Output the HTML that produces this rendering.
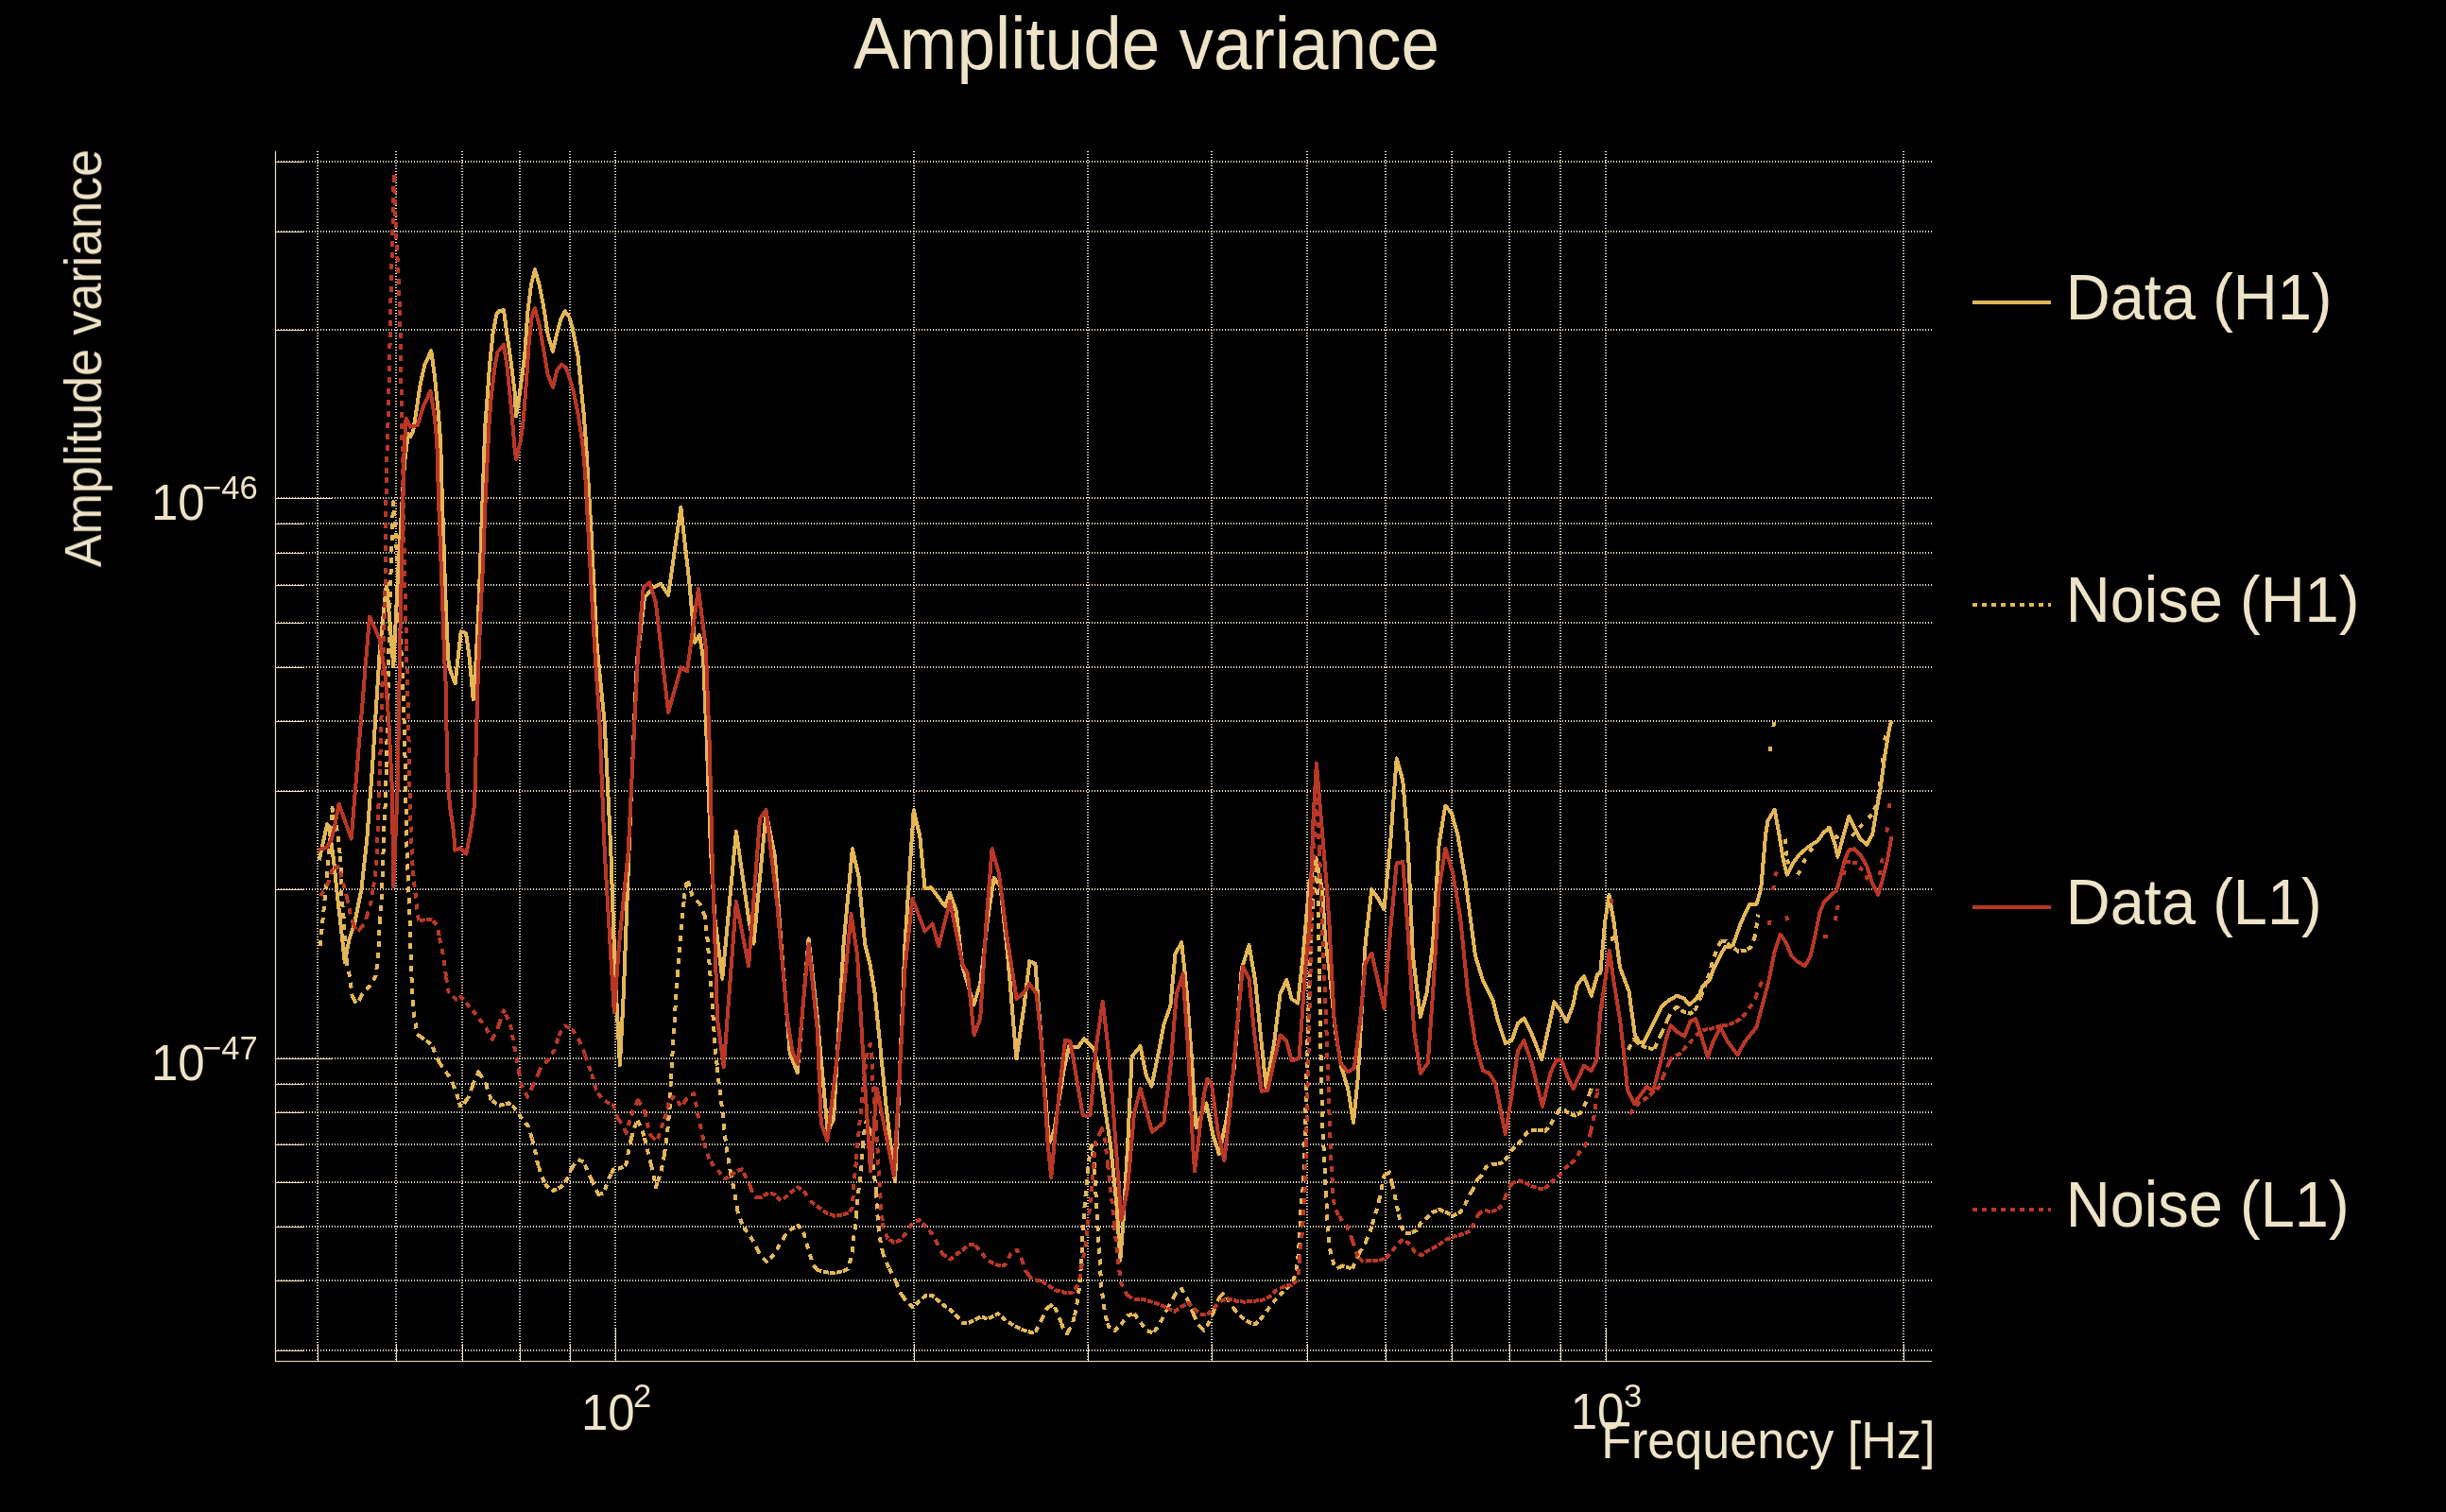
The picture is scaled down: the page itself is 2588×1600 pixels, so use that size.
<!DOCTYPE html>
<html><head><meta charset="utf-8"><title>Amplitude variance</title><style>
html,body{margin:0;padding:0;background:#000;width:2588px;height:1600px;overflow:hidden}
svg{display:block}
</style></head><body>
<svg width="2588" height="1600" viewBox="0 0 2588 1600" xmlns="http://www.w3.org/2000/svg" font-family="'Liberation Sans', sans-serif">
<rect width="2588" height="1600" fill="#000"/>
<path d="M291 171H2044M291 245H2044M291 349H2044M291 527H2044M291 554H2044M291 585H2044M291 619H2044M291 659H2044M291 706H2044M291 763H2044M291 837H2044M291 941H2044M291 1120H2044M291 1147H2044M291 1177H2044M291 1211H2044M291 1251H2044M291 1298H2044M291 1355H2044M291 1429H2044M336 160V1440M419 160V1440M489 160V1440M550 160V1440M603 160V1440M651 160V1440M967 160V1440M1151 160V1440M1282 160V1440M1383 160V1440M1466 160V1440M1536 160V1440M1597 160V1440M1651 160V1440M1699 160V1440M2014 160V1440" stroke="#EFE4C8" stroke-width="2" stroke-dasharray="1 2" fill="none"/>
<path d="M291 171.5h31M291 245.5h31M291 349.5h31M291 527.5h61M291 554.5h31M291 585.5h31M291 619.5h31M291 659.5h31M291 706.5h31M291 763.5h31M291 837.5h31M291 941.5h31M291 1120.5h61M291 1147.5h31M291 1177.5h31M291 1211.5h31M291 1251.5h31M291 1298.5h31M291 1355.5h31M291 1429.5h31M336.5 1440v-18M419.5 1440v-18M489.5 1440v-18M550.5 1440v-18M603.5 1440v-18M651.5 1440v-35M967.5 1440v-18M1151.5 1440v-18M1282.5 1440v-18M1383.5 1440v-18M1466.5 1440v-18M1536.5 1440v-18M1597.5 1440v-18M1651.5 1440v-18M1699.5 1440v-35M2014.5 1440v-18" stroke="#EFE4C8" stroke-width="1" fill="none"/>
<path d="M291.5 160V1440.5H2044" stroke="#EFE4C8" stroke-width="1.2" fill="none"/>
<g fill="none" stroke-width="4" stroke-linejoin="round" shape-rendering="crispEdges">
<polyline points="337.7,910.2 346.1,872.1 348.0,874.0 353.2,911.4 356.8,947.0 361.0,982.9 364.8,1018.4 369.3,994.8 375.2,976.9 382.4,941.2 388.3,887.6 394.0,812.0 401.7,690.0 409.0,617.0 416.3,705.5 421.0,610.0 425.0,540.0 428.0,490.0 431.8,459.3 434.5,462.0 437.2,456.3 440.2,436.5 444.8,406.1 449.3,386.3 456.2,371.1 460.0,398.5 463.8,436.5 466.1,466.9 467.9,530.0 469.5,575.7 471.0,621.3 472.5,659.4 474.8,705.0 481.6,723.3 487.7,668.5 493.0,670.0 496.9,697.4 500.7,740.0 503.7,697.4 506.7,636.5 508.3,590.9 510.5,530.0 513.2,452.3 515.7,419.2 518.1,386.1 521.5,353.0 525.6,331.6 528.5,329.0 533.0,328.3 536.3,353.0 540.3,380.0 544.6,415.0 546.1,440.4 549.1,422.1 555.2,376.5 558.3,330.8 562.1,300.4 565.9,285.2 570.4,300.4 575.0,323.2 579.6,353.7 584.9,371.9 588.7,355.2 593.2,338.5 597.8,329.3 602.4,335.4 605.4,346.1 608.5,361.3 611.5,376.5 614.5,406.9 617.6,437.3 620.0,467.7 625.4,560.0 631.7,685.0 639.7,764.6 646.3,900.0 650.6,1025.0 655.9,1127.0 659.8,1051.6 667.8,840.0 674.0,698.4 682.0,632.3 691.3,621.7 699.2,617.7 707.1,629.6 720.4,537.0 729.6,619.0 735.0,680.0 740.2,672.0 744.2,698.4 748.0,791.0 752.0,900.0 756.4,972.0 764.3,1035.8 778.9,879.7 792.1,972.3 797.4,998.7 810.6,859.8 819.9,906.0 826.5,998.7 835.8,1115.0 843.7,1135.0 855.6,993.4 864.9,1078.0 875.8,1198.0 882.0,1184.0 892.6,998.7 901.9,898.2 908.5,927.3 915.1,998.7 920.4,1020.0 925.7,1051.6 933.7,1131.0 937.6,1170.7 947.0,1250.6 952.2,1131.0 957.5,998.7 966.7,857.2 973.3,885.0 978.6,940.5 985.2,939.2 999.8,959.0 1005.0,944.5 1011.7,964.3 1018.3,1022.5 1030.4,1063.0 1037.2,1041.0 1045.1,972.3 1051.7,928.6 1058.4,938.0 1066.3,1012.0 1075.4,1120.3 1083.5,1064.9 1089.3,1017.2 1095.4,1020.0 1102.0,1104.5 1110.0,1210.2 1115.2,1197.0 1125.8,1131.0 1131.1,1107.2 1140.4,1108.5 1147.0,1099.3 1157.6,1109.8 1164.2,1139.0 1170.8,1184.0 1175.1,1212.4 1181.9,1279.9 1185.3,1333.8 1188.6,1291.1 1193.1,1212.4 1197.6,1118.0 1206.5,1107.2 1213.0,1139.0 1218.4,1149.5 1225.0,1117.8 1231.6,1083.4 1238.3,1064.9 1243.5,1009.3 1250.2,997.4 1255.4,1046.3 1260.7,1117.8 1265.6,1193.0 1276.3,1167.5 1283.2,1199.8 1289.8,1221.2 1297.8,1184.0 1303.3,1145.0 1305.7,1131.0 1313.7,1025.2 1321.6,1000.0 1328.2,1038.4 1334.8,1104.5 1339.6,1150.5 1348.0,1104.5 1354.6,1051.6 1361.3,1037.0 1366.6,1057.0 1373.2,1061.6 1378.8,1010.0 1385.4,934.0 1392.5,908.0 1399.2,943.0 1402.1,994.0 1406.3,1024.6 1412.9,1090.7 1419.5,1130.4 1426.1,1151.5 1432.0,1187.7 1436.7,1141.0 1444.7,998.0 1451.3,941.2 1457.9,950.5 1464.5,962.4 1471.1,892.3 1477.7,802.3 1484.3,826.1 1489.6,892.3 1494.9,1011.3 1502.9,1076.1 1509.5,1051.0 1516.1,998.0 1522.7,892.3 1529.3,852.6 1535.9,860.5 1542.5,884.3 1550.5,932.0 1561.0,1011.3 1569.0,1037.8 1579.6,1059.0 1584.9,1080.0 1592.8,1103.9 1599.4,1101.3 1606.0,1082.8 1612.6,1077.5 1619.3,1090.7 1624.6,1103.9 1631.2,1121.1 1637.8,1090.7 1644.4,1060.3 1651.0,1069.5 1657.6,1081.4 1664.2,1064.2 1668.7,1042.5 1675.9,1033.0 1683.8,1053.7 1690.2,1031.4 1693.3,1029.8 1698.1,975.9 1702.6,947.1 1707.6,975.9 1714.0,1023.5 1723.5,1048.9 1729.8,1094.9 1734.6,1102.9 1739.4,1102.9 1748.9,1083.8 1758.4,1064.8 1764.8,1059.2 1774.3,1053.7 1782.2,1056.8 1787.0,1063.2 1793.3,1058.4 1798.1,1052.1 1801.3,1044.1 1809.2,1036.2 1812.4,1026.7 1818.7,1014.0 1825.1,1002.1 1830.6,1002.1 1833.8,999.7 1841.0,979.0 1847.3,964.8 1851.4,956.7 1858.6,956.7 1863.3,940.0 1868.1,882.9 1870.5,868.6 1877.6,856.7 1882.4,882.9 1887.1,911.4 1890.7,925.7 1896.7,913.8 1903.8,904.3 1913.3,896.0 1922.9,890.0 1930.0,880.5 1936.0,876.9 1941.9,894.8 1944.3,906.7 1950.2,885.2 1956.2,863.8 1962.1,875.7 1968.1,887.6 1975.2,893.6 1981.2,882.9 1986.0,854.3 1989.5,835.2 1994.3,799.5 1999.0,771.0 2001.4,762.6" stroke="#E3B656"/>
<path d="M338.9 1000.7L341.3 975.1L343.7 950.7L345.9 927.8M345.9 927.8L346.1 925.7L347.9 904.9L351.4 867.4L351.4 854.9L352.9 861.7M352.9 861.7L356.8 879.3L358.6 892.4L359.9 906.1M359.9 906.1L360.4 911.4L361.0 923.3L361.5 948.3L362.7 961.4L363.9 974.5L365.1 999.5L366.9 1016.0M366.9 1016.0L367.6 1022.4L370.6 1036.3L372.6 1054.2L373.9 1056.5M373.9 1056.5L377.5 1063.0L380.9 1056.8M380.9 1056.8L383.5 1052.0L387.9 1047.0M387.9 1047.0L390.4 1044.2L394.9 1037.2M394.9 1037.2L397.4 1033.3L399.4 1018.4L400.4 1006.5L401.3 982.7L401.9 975.6M401.9 975.6L403.3 958.9L404.3 939.0L406.3 877.5L407.6 852.4L408.8 816.7L408.9 812.1M408.9 812.1L410.0 762.0L411.2 700.0L412.5 640.0L414.0 590.0L415.9 534.0M415.9 534.0L416.0 531.0L419.0 570.0L422.0 630.0L422.9 652.5M422.9 652.5L424.0 680.0L425.5 709.5L426.7 738.0L427.9 773.8L429.0 821.4L429.5 852.4L429.9 878.5M429.9 878.5L430.0 885.0L431.0 911.0L432.0 937.0L433.0 957.0L433.6 973.0L435.0 1025.8L436.9 1058.7M436.9 1058.7L437.6 1070.8L441.5 1094.6L443.9 1096.3M443.9 1096.3L450.8 1101.0L450.9 1101.1M450.9 1101.1L457.4 1106.5L457.9 1108.0M457.9 1108.0L461.4 1118.4L464.9 1124.2M464.9 1124.2L469.3 1131.6L471.9 1134.7M471.9 1134.7L476.0 1139.6L478.9 1146.6M478.9 1146.6L482.5 1155.4L485.9 1166.4M485.9 1166.4L487.8 1172.6L492.9 1165.0M492.9 1165.0L495.8 1160.7L499.9 1149.3M499.9 1149.3L501.0 1146.2L506.3 1134.3L506.9 1135.3M506.9 1135.3L513.9 1146.8M513.9 1146.8L514.3 1147.5L519.6 1163.4L520.9 1164.5M520.9 1164.5L527.5 1170.0L527.9 1169.9M527.9 1169.9L534.9 1168.2M534.9 1168.2L538.0 1167.4L541.9 1170.2M541.9 1170.2L543.4 1171.3L548.9 1179.0M548.9 1179.0L550.0 1180.6L555.9 1188.1M555.9 1188.1L559.3 1192.5L562.9 1204.7M562.9 1204.7L563.2 1205.7L565.9 1216.3L568.5 1229.5L569.9 1234.2M569.9 1234.2L572.5 1242.8L576.9 1252.7M576.9 1252.7L577.8 1254.7L583.9 1258.8M583.9 1258.8L585.7 1260.0L590.9 1257.4M590.9 1257.4L593.7 1256.0L597.9 1250.8M597.9 1250.8L599.0 1249.4L604.2 1237.5L604.9 1236.4M604.9 1236.4L610.8 1226.9L611.9 1227.3M611.9 1227.3L617.5 1229.5L618.9 1232.6M618.9 1232.6L622.8 1241.4L625.9 1248.3M625.9 1248.3L629.4 1256.0L632.9 1263.2M632.9 1263.2L633.3 1264.0L638.6 1262.6L639.9 1259.0M639.9 1259.0L643.9 1248.0L646.9 1242.1M646.9 1242.1L649.2 1237.5L653.9 1236.6M653.9 1236.6L657.1 1236.0L660.9 1233.3M660.9 1233.3L662.4 1232.2L666.4 1211.0L667.9 1205.0M667.9 1205.0L670.4 1195.1L674.6 1185.0L674.9 1185.7M674.9 1185.7L681.0 1200.4L681.9 1204.1M681.9 1204.1L686.2 1221.6L688.9 1232.4M688.9 1232.4L691.5 1242.8L694.0 1256.3L695.9 1250.6M695.9 1250.6L699.6 1239.4L702.9 1221.9M702.9 1221.9L703.0 1221.4L706.3 1196.7L708.6 1172.0L709.7 1145.0L709.9 1141.7M709.9 1141.7L712.0 1106.7L715.4 1051.6L716.9 1031.8M716.9 1031.8L719.4 998.7L723.9 951.4M723.9 951.4L724.7 943.0L727.3 930.0L730.9 942.6M730.9 942.6L732.6 948.5L737.9 953.8M737.9 953.8L740.5 956.4L744.9 967.4M744.9 967.4L745.8 969.6L748.5 993.4L751.0 1025.0L751.9 1037.8M751.9 1037.8L753.8 1064.9L756.4 1104.5L758.9 1129.3M758.9 1129.3L760.4 1144.2L764.8 1178.7L765.9 1189.6M765.9 1189.6L768.2 1212.4L772.7 1239.4L772.9 1240.4M772.9 1240.4L774.9 1250.6L777.2 1261.9L779.9 1278.4M779.9 1278.4L780.5 1282.1L786.1 1297.9L786.9 1299.0M786.9 1299.0L792.9 1306.9L793.9 1308.5M793.9 1308.5L798.5 1315.9L800.9 1321.2M800.9 1321.2L804.1 1328.2L807.9 1332.0M807.9 1332.0L810.9 1335.0L814.9 1331.6M814.9 1331.6L817.6 1329.3L821.9 1322.2M821.9 1322.2L824.4 1318.1L828.9 1310.6M828.9 1310.6L831.1 1306.9L835.9 1302.1M835.9 1302.1L837.9 1300.1L842.9 1297.6M842.9 1297.6L844.6 1296.7L849.9 1304.2M849.9 1304.2L850.2 1304.6L854.7 1320.3L856.9 1327.4M856.9 1327.4L860.3 1338.3L863.9 1342.9M863.9 1342.9L864.8 1344.0L870.9 1345.5M870.9 1345.5L873.8 1346.2L877.9 1346.7M877.9 1346.7L882.8 1347.3L884.9 1346.8M884.9 1346.8L891.8 1345.1L891.9 1345.1M891.9 1345.1L897.4 1342.8L898.9 1336.9M898.9 1336.9L902.0 1324.8L903.0 1311.4L905.3 1295.6L905.9 1287.1M905.9 1287.1L906.4 1280.0L908.7 1257.4L911.0 1239.4L912.0 1228.2L912.9 1213.1M912.9 1213.1L913.2 1208.0L915.4 1190.0L918.0 1185.0L919.9 1196.4M919.9 1196.4L921.0 1203.0L924.4 1239.4L926.7 1257.4L926.9 1261.5M926.9 1261.5L927.8 1280.0L930.0 1302.4L932.3 1318.1L933.9 1324.6M933.9 1324.6L934.5 1327.1L939.0 1338.3L940.9 1342.1M940.9 1342.1L946.9 1354.0L947.9 1356.4M947.9 1356.4L952.5 1367.6L954.9 1371.2M954.9 1371.2L959.3 1377.7L961.9 1379.9M961.9 1379.9L966.0 1383.3L968.9 1380.4M968.9 1380.4L972.8 1376.6L975.9 1374.0M975.9 1374.0L979.5 1371.0L982.9 1371.0M982.9 1371.0L986.3 1371.0L989.9 1374.0M989.9 1374.0L993.0 1376.6L996.9 1379.8M996.9 1379.8L999.8 1382.2L1003.9 1385.0M1003.9 1385.0L1006.5 1386.7L1010.9 1391.1M1010.9 1391.1L1012.1 1392.3L1017.9 1399.0M1017.9 1399.0L1018.9 1400.2L1024.9 1400.0M1024.9 1400.0L1025.0 1400.0L1031.2 1396.8L1031.9 1396.5M1031.9 1396.5L1038.0 1393.4L1038.9 1393.7M1038.9 1393.7L1044.7 1395.7L1045.9 1395.1M1045.9 1395.1L1052.9 1391.6M1052.9 1391.6L1056.0 1390.0L1059.9 1393.5M1059.9 1393.5L1065.0 1398.0L1066.9 1399.2M1066.9 1399.2L1073.9 1403.4M1073.9 1403.4L1074.0 1403.5L1080.9 1406.6M1080.9 1406.6L1084.1 1408.0L1087.9 1409.1M1087.9 1409.1L1092.0 1410.3L1094.9 1408.8M1094.9 1408.8L1096.4 1408.0L1101.9 1397.2M1101.9 1397.2L1102.1 1396.8L1107.7 1384.4L1108.9 1383.6M1108.9 1383.6L1114.4 1380.0L1115.9 1383.3M1115.9 1383.3L1120.0 1392.3L1122.9 1400.1M1122.9 1400.1L1124.6 1404.7L1129.0 1411.4L1129.9 1409.8M1129.9 1409.8L1134.7 1401.3L1136.9 1392.3M1136.9 1392.3L1138.0 1387.8L1140.3 1374.3L1142.5 1358.6L1143.9 1338.0M1143.9 1338.0L1144.8 1324.8L1145.9 1297.9L1148.2 1268.6L1150.4 1246.2L1150.9 1241.3M1150.9 1241.3L1152.7 1223.7L1155.0 1212.0L1157.5 1230.0L1157.9 1236.7M1157.9 1236.7L1159.4 1261.9L1160.5 1279.9L1161.7 1302.4L1163.9 1336.0L1164.9 1356.5M1164.9 1356.5L1165.0 1358.6L1167.3 1376.6L1169.5 1392.3L1171.9 1400.2M1171.9 1400.2L1172.9 1403.5L1178.9 1407.5M1178.9 1407.5L1179.6 1408.0L1185.9 1401.8M1185.9 1401.8L1186.4 1401.3L1192.9 1392.6M1192.9 1392.6L1193.1 1392.3L1199.9 1390.0M1199.9 1390.0L1199.9 1390.0L1206.6 1399.0L1206.9 1399.4M1206.9 1399.4L1213.4 1408.0L1213.9 1408.2M1213.9 1408.2L1220.1 1410.3L1220.9 1409.3M1220.9 1409.3L1225.7 1403.5L1227.9 1399.2M1227.9 1399.2L1231.4 1392.3L1234.9 1385.2M1234.9 1385.2L1237.0 1381.0L1241.9 1372.6M1241.9 1372.6L1244.8 1367.6L1248.9 1365.2M1248.9 1365.2L1250.5 1364.2L1255.9 1374.2M1255.9 1374.2L1257.2 1376.6L1261.7 1387.8L1262.9 1390.7M1262.9 1390.7L1267.3 1401.3L1269.9 1403.9M1269.9 1403.9L1274.0 1408.0L1276.9 1403.2M1276.9 1403.2L1280.8 1396.8L1283.9 1388.1M1283.9 1388.1L1286.4 1381.0L1290.9 1372.0M1290.9 1372.0L1290.9 1372.0L1295.4 1367.6L1297.9 1372.5M1297.9 1372.5L1301.1 1378.8L1304.9 1383.9M1304.9 1383.9L1307.8 1387.8L1311.9 1391.9M1311.9 1391.9L1314.5 1394.5L1318.9 1397.4M1318.9 1397.4L1321.3 1399.0L1325.9 1400.6M1325.9 1400.6L1328.0 1401.3L1332.9 1396.4M1332.9 1396.4L1334.8 1394.5L1339.9 1387.7M1339.9 1387.7L1341.5 1385.6L1346.9 1378.5M1346.9 1378.5L1348.3 1376.6L1353.9 1370.9M1353.9 1370.9L1355.0 1369.8L1360.9 1364.0M1360.9 1364.0L1361.8 1363.1L1367.9 1355.9M1367.9 1355.9L1368.5 1355.2L1371.9 1342.8L1374.1 1324.8L1374.9 1309.9M1374.9 1309.9L1375.3 1302.4L1376.4 1279.9L1378.6 1257.4L1379.8 1235.0L1381.9 1153.9M1381.9 1153.9L1382.0 1150.0L1385.0 1050.0L1388.0 970.0L1388.9 956.5M1388.9 956.5L1391.0 925.0L1393.0 913.0L1395.0 960.0L1395.9 1032.0M1395.9 1032.0L1396.0 1040.0L1397.1 1100.0L1399.3 1190.0L1401.6 1235.0L1402.9 1261.5M1402.9 1261.5L1403.8 1279.9L1406.1 1318.1L1409.5 1331.6L1409.9 1333.0M1409.9 1333.0L1412.8 1342.8L1416.9 1341.1M1416.9 1341.1L1420.7 1339.5L1423.9 1340.5M1423.9 1340.5L1430.8 1342.8L1430.9 1342.6M1430.9 1342.6L1437.6 1327.1L1437.9 1326.6M1437.9 1326.6L1444.3 1315.9L1444.9 1314.5M1444.9 1314.5L1450.0 1302.4L1451.9 1295.9M1451.9 1295.9L1453.3 1291.1L1456.7 1279.9L1458.9 1270.9M1458.9 1270.9L1460.0 1266.4L1462.3 1255.1L1464.6 1243.9L1465.9 1243.1M1465.9 1243.1L1470.2 1240.5L1472.9 1252.4M1472.9 1252.4L1473.5 1255.1L1476.9 1270.9L1479.9 1284.8M1479.9 1284.8L1480.3 1286.6L1482.5 1297.9L1485.9 1304.6L1486.9 1304.6M1486.9 1304.6L1492.7 1304.6L1493.9 1304.1M1493.9 1304.1L1498.3 1302.4L1500.9 1298.2M1500.9 1298.2L1503.9 1293.4L1507.9 1290.2M1507.9 1290.2L1509.5 1288.9L1514.9 1283.4M1514.9 1283.4L1515.1 1283.2L1521.9 1280.4M1521.9 1280.4L1523.0 1279.9L1528.9 1282.4M1528.9 1282.4L1530.9 1283.2L1535.9 1285.7M1535.9 1285.7L1537.6 1286.6L1542.9 1284.0M1542.9 1284.0L1544.4 1283.2L1548.9 1277.6L1549.9 1275.4M1549.9 1275.4L1553.4 1267.5L1556.9 1261.2M1556.9 1261.2L1559.0 1257.4L1563.5 1247.3L1563.9 1247.0M1563.9 1247.0L1568.0 1243.9L1570.9 1238.1M1570.9 1238.1L1572.5 1234.9L1577.9 1232.2M1577.9 1232.2L1579.2 1231.5L1584.8 1231.5L1584.9 1231.5M1584.9 1231.5L1589.3 1230.4L1591.9 1227.8M1591.9 1227.8L1596.1 1223.7L1598.9 1218.1M1598.9 1218.1L1599.5 1216.9L1604.0 1212.4L1605.9 1210.5M1605.9 1210.5L1608.5 1208.0L1612.9 1202.2M1612.9 1202.2L1616.3 1197.8L1619.9 1196.6M1619.9 1196.6L1623.1 1195.6L1626.9 1195.6M1626.9 1195.6L1629.8 1195.6L1633.9 1196.4M1633.9 1196.4L1635.4 1196.7L1640.9 1190.0M1640.9 1190.0L1641.0 1189.9L1644.4 1183.2L1647.9 1177.6M1647.9 1177.6L1650.0 1174.2L1654.9 1175.1M1654.9 1175.1L1655.7 1175.3L1661.3 1178.7L1661.9 1178.9M1661.9 1178.9L1666.3 1180.6L1668.9 1179.3M1668.9 1179.3L1672.7 1177.5L1675.9 1171.0M1675.9 1171.0L1679.0 1164.8L1682.9 1154.2M1682.9 1154.2L1683.8 1151.7" stroke="#E3B656" stroke-dasharray="6 6"/>
<path d="M1722.7 1110.8L1728.3 1099.7L1729.7 1100.8M1729.7 1100.8L1735.0 1105.0L1736.7 1106.0M1736.7 1106.0L1742.5 1109.2L1743.7 1109.3M1743.7 1109.3L1750.5 1110.0L1750.7 1109.6M1750.7 1109.6L1757.7 1094.0M1757.7 1094.0L1761.6 1085.4L1764.7 1078.4M1764.7 1078.4L1767.9 1071.1L1771.7 1067.8M1771.7 1067.8L1774.3 1065.6L1778.7 1068.7M1778.7 1068.7L1782.2 1071.1L1785.7 1072.0M1785.7 1072.0L1788.6 1072.7L1792.7 1069.1M1792.7 1069.1L1794.1 1067.9L1799.7 1055.2M1799.7 1055.2L1799.7 1055.2L1806.7 1035.4M1806.7 1035.4L1809.2 1028.3L1812.4 1015.6L1813.7 1012.3M1813.7 1012.3L1815.6 1007.6L1820.3 996.5L1820.7 996.4M1820.7 996.4L1825.9 995.7L1827.7 997.6M1827.7 997.6L1830.0 1000.0L1834.7 1003.4M1834.7 1003.4L1839.4 1006.8L1841.7 1006.5M1841.7 1006.5L1846.5 1006.0L1848.7 1004.7M1848.7 1004.7L1852.9 1002.1L1855.7 994.1M1855.7 994.1L1856.8 991.0L1860.5 967.7" stroke="#E3B656" stroke-dasharray="6 6"/>
<polyline points="337.1,899.0 345.5,897.0 350.8,888.0 353.8,875.7 358.6,850.7 371.7,887.6 391.0,652.4 401.7,676.2 407.6,714.3 411.2,762.0 414.8,833.3 416.3,938.3 420.7,833.3 423.0,690.5 425.5,571.4 427.5,480.0 429.6,442.6 434.1,451.7 441.7,450.2 447.8,430.4 455.4,413.7 459.2,436.5 462.3,466.9 464.1,530.0 466.4,590.9 468.7,651.7 470.2,697.4 472.0,730.0 472.6,780.3 473.8,830.6 476.4,855.8 480.1,881.0 481.4,899.8 487.0,897.3 493.3,903.6 497.7,881.0 501.5,855.8 502.8,830.6 504.0,780.3 505.3,730.0 508.3,651.7 511.3,590.9 513.6,530.0 517.3,452.3 519.8,419.2 523.9,386.1 526.4,372.9 533.0,364.6 536.3,386.1 541.3,435.7 544.6,475.0 546.1,486.0 550.6,467.7 553.7,444.9 556.7,406.9 559.8,361.3 562.8,333.9 565.9,326.3 570.4,343.0 575.0,368.9 579.6,396.3 584.9,410.0 589.4,391.7 594.0,385.6 598.6,388.7 602.4,399.3 606.9,414.5 611.5,437.3 616.1,467.7 619.1,500.0 629.1,685.0 634.4,764.6 639.7,900.0 649.8,1071.0 655.0,1000.0 664.8,900.0 671.4,764.6 675.4,685.0 680.7,621.7 687.3,616.4 693.9,637.6 707.1,754.0 720.4,706.3 727.0,710.3 738.9,623.0 746.8,685.2 750.8,791.0 753.4,900.0 759.0,1078.0 765.7,1129.0 778.9,953.8 792.1,1022.5 804.0,866.5 810.6,857.2 822.5,959.0 833.0,1078.0 838.4,1112.5 844.0,1126.0 855.6,998.7 864.9,1091.3 868.8,1189.2 875.4,1207.0 887.3,1104.5 900.6,967.0 907.2,1012.0 912.5,1104.5 921.0,1239.4 927.8,1151.7 945.8,1244.0 952.2,1131.0 957.5,1025.0 965.4,951.0 978.6,985.5 986.6,977.6 993.2,1001.4 1005.0,953.8 1018.3,1020.0 1024.0,1030.5 1030.6,1095.3 1037.2,1078.0 1043.8,972.3 1049.6,898.2 1057.0,924.7 1065.0,988.0 1075.6,1057.0 1082.2,1051.6 1089.3,1041.0 1096.7,1051.6 1102.0,1104.5 1108.6,1210.0 1112.2,1246.2 1120.5,1157.5 1127.1,1100.6 1132.4,1102.0 1145.7,1180.0 1150.4,1181.0 1153.6,1180.0 1160.2,1104.5 1166.8,1059.6 1173.4,1117.8 1177.4,1167.5 1186.4,1291.1 1193.1,1257.4 1199.9,1178.7 1206.6,1151.7 1213.0,1176.0 1219.0,1197.8 1231.4,1187.7 1238.3,1131.0 1244.9,1051.6 1251.5,1030.5 1256.8,1104.5 1262.0,1210.0 1264.0,1239.4 1274.0,1157.5 1277.4,1141.6 1282.0,1147.0 1288.5,1197.0 1295.4,1228.2 1301.7,1170.7 1308.4,1091.3 1315.0,1022.5 1321.6,1035.8 1326.9,1091.3 1334.8,1154.8 1341.4,1153.5 1348.0,1123.0 1354.6,1095.3 1361.3,1102.0 1366.6,1122.4 1374.6,1119.8 1381.2,1024.6 1385.4,979.0 1387.6,921.0 1389.7,862.7 1392.9,808.0 1396.3,848.2 1399.9,891.8 1403.6,935.5 1406.5,979.0 1408.0,1010.0 1411.6,1077.5 1418.2,1125.0 1426.1,1134.3 1432.8,1130.4 1439.4,1077.5 1444.7,1019.3 1451.3,1008.7 1457.9,1037.8 1464.5,1066.9 1471.1,984.9 1477.7,913.4 1484.3,912.1 1489.6,984.9 1496.2,1090.7 1502.9,1135.7 1510.8,1125.0 1516.1,1051.0 1522.7,939.9 1529.3,897.6 1537.2,924.0 1545.2,971.6 1553.1,1051.0 1561.0,1104.0 1569.0,1133.0 1575.6,1135.7 1582.2,1146.2 1592.7,1200.0 1599.4,1160.0 1606.0,1111.9 1612.3,1101.0 1620.6,1125.0 1632.0,1170.8 1640.4,1135.7 1647.0,1121.2 1652.3,1122.4 1659.0,1141.0 1664.8,1152.0 1676.0,1127.5 1683.8,1133.3 1689.4,1121.9 1693.3,1071.1 1698.1,1039.4 1702.9,1006.0 1707.6,1039.4 1714.0,1079.0 1718.7,1118.7 1721.9,1153.7 1729.0,1167.9 1742.5,1149.7 1748.9,1155.2 1758.4,1118.7 1763.2,1098.1 1767.9,1085.4 1774.3,1091.7 1782.2,1096.5 1788.6,1080.6 1794.1,1078.3 1799.7,1094.9 1806.8,1118.7 1812.4,1102.9 1820.3,1087.0 1828.3,1102.9 1838.6,1116.3 1845.7,1102.9 1858.4,1087.0 1864.8,1063.2 1871.1,1039.4 1877.5,1007.6 1883.8,988.6 1889.5,997.1 1895.5,1011.4 1901.4,1017.4 1909.8,1022.1 1915.7,1011.4 1920.5,990.0 1925.2,966.2 1930.0,954.3 1937.1,947.1 1943.1,942.4 1947.9,925.7 1951.4,911.4 1956.2,899.5 1962.1,898.3 1968.1,904.3 1975.2,916.2 1981.2,935.2 1987.1,947.1 1991.9,930.5 1996.7,911.4 2001.4,885.2" stroke="#B93726"/>
<path d="M339.0 948.0L344.3 940.0L346.0 936.4M346.0 936.4L348.5 931.0L352.0 918.6L353.0 918.4M353.0 918.4L358.6 917.4L360.0 922.6M360.0 922.6L362.1 930.5L365.1 941.8L367.0 949.7M367.0 949.7L368.1 954.3L370.5 966.2L372.3 973.3L374.0 977.7M374.0 977.7L377.6 987.0L381.0 982.9M381.0 982.9L386.0 976.9L388.0 970.1M388.0 970.1L389.5 965.0L392.4 955.0L394.4 943.0L395.0 939.4M395.0 939.4L396.4 931.0L398.4 913.0L400.5 852.4L402.0 810.7M402.0 810.7L402.9 785.7L404.0 738.0L406.4 666.7L407.6 619.0L408.6 517.6L409.0 500.7M409.0 500.7L409.5 479.5L411.0 432.0L412.1 384.3L413.1 336.7L413.8 301.0L415.0 260.5L416.0 214.9M416.0 214.9L416.7 183.0L419.8 260.5L422.1 301.0L423.0 327.8M423.0 327.8L423.3 336.7L424.0 384.3L425.0 432.0L425.7 479.5L426.5 530.0L427.9 595.2L429.0 642.9L430.0 682.6M430.0 682.6L430.2 690.5L431.4 738.0L432.6 785.7L433.8 852.4L435.0 885.6L436.0 909.4L437.0 920.7M437.0 920.7L438.0 932.0L440.0 950.0L441.4 961.9L443.0 974.8L444.0 974.5M444.0 974.5L450.0 973.0L451.0 973.0M451.0 973.0L456.9 972.8L458.0 974.1M458.0 974.1L462.7 979.5L465.0 992.3M465.0 992.3L465.3 994.0L469.3 1012.6L472.0 1033.8M472.0 1033.8L472.0 1033.8L474.6 1049.6L479.0 1054.1M479.0 1054.1L482.5 1057.6L486.0 1055.9M486.0 1055.9L487.8 1055.0L493.0 1061.0M493.0 1061.0L495.8 1064.2L500.0 1069.1M500.0 1069.1L503.7 1073.4L507.0 1077.9M507.0 1077.9L514.0 1087.6M514.0 1087.6L514.3 1088.0L520.9 1099.9L521.0 1099.7M521.0 1099.7L526.2 1089.3L528.0 1083.9M528.0 1083.9L532.8 1069.5L535.0 1073.5M535.0 1073.5L539.4 1081.4L542.0 1095.1M542.0 1095.1L543.4 1102.5L547.4 1123.7L549.0 1133.5M549.0 1133.5L551.3 1147.5L556.0 1156.9M556.0 1156.9L557.9 1160.7L563.0 1150.6M563.0 1150.6L565.9 1144.9L570.0 1135.0M570.0 1135.0L572.5 1129.0L577.0 1124.4M577.0 1124.4L580.4 1121.0L584.0 1115.3M584.0 1115.3L587.0 1110.5L591.0 1096.0M591.0 1096.0L591.0 1096.0L597.6 1085.3L598.0 1085.5M598.0 1085.5L605.0 1089.0M605.0 1089.0L605.6 1089.3L612.0 1099.6M612.0 1099.6L612.2 1099.9L617.5 1111.8L619.0 1116.4M619.0 1116.4L621.4 1123.7L625.4 1134.3L626.0 1136.4M626.0 1136.4L630.7 1152.8L633.0 1156.5M633.0 1156.5L637.3 1163.4L640.0 1164.9M640.0 1164.9L647.0 1168.8M647.0 1168.8L649.2 1170.0L653.5 1183.2L654.0 1183.9M654.0 1183.9L658.5 1189.8L661.0 1195.5M661.0 1195.5L662.5 1199.0L667.0 1183.2L668.0 1180.6M668.0 1180.6L670.4 1174.2L674.9 1164.0L675.0 1164.2M675.0 1164.2L681.6 1174.2L682.0 1176.1M682.0 1176.1L685.0 1190.0L688.3 1201.2L689.0 1201.9M689.0 1201.9L695.0 1208.0L696.0 1205.0M696.0 1205.0L699.6 1194.4L703.0 1184.3M703.0 1184.3L704.1 1181.0L707.5 1167.5L710.0 1163.7M710.0 1163.7L712.0 1160.7L716.4 1164.0L717.0 1165.0M717.0 1165.0L721.0 1172.0L724.0 1166.5M724.0 1166.5L725.4 1164.0L730.0 1158.5L731.0 1158.2M731.0 1158.2L734.4 1157.3L736.7 1169.7L738.0 1177.3M738.0 1177.3L739.0 1183.2L742.3 1196.7L745.0 1209.2M745.0 1209.2L745.7 1212.4L750.2 1226.0L752.0 1228.9M752.0 1228.9L755.8 1235.0L759.0 1238.1M759.0 1238.1L761.4 1240.5L766.0 1246.1M766.0 1246.1L767.0 1247.3L772.7 1244.0L773.0 1243.8M773.0 1243.8L779.4 1239.4L780.0 1239.2M780.0 1239.2L785.0 1237.2L787.0 1241.2M787.0 1241.2L789.5 1246.2L792.9 1252.9L794.0 1256.2M794.0 1256.2L797.4 1266.4L801.0 1266.9M801.0 1266.9L805.3 1267.5L808.0 1265.6M808.0 1265.6L813.1 1261.9L815.0 1262.5M815.0 1262.5L819.9 1264.1L822.0 1266.2M822.0 1266.2L826.6 1270.9L829.0 1268.8M829.0 1268.8L836.0 1262.5M836.0 1262.5L837.9 1260.8L843.0 1257.4M843.0 1257.4L844.6 1256.3L850.0 1260.7M850.0 1260.7L851.4 1261.9L857.0 1270.9M857.0 1270.9L857.0 1270.9L864.0 1275.9M864.0 1275.9L864.8 1276.5L871.0 1281.1M871.0 1281.1L873.8 1283.2L878.0 1284.8M878.0 1284.8L882.8 1286.6L885.0 1286.3M885.0 1286.3L891.8 1285.5L892.0 1285.4M892.0 1285.4L898.6 1283.2L899.0 1282.5M899.0 1282.5L902.0 1277.6L903.0 1257.4L905.3 1235.0L906.0 1226.8M906.0 1226.8L907.6 1208.0L909.8 1185.4L912.0 1167.5L913.0 1155.8M913.0 1155.8L914.3 1140.5L917.7 1113.5L920.0 1107.2M920.0 1107.2L921.0 1104.5L922.2 1118.0L923.3 1145.0L925.6 1172.0L927.0 1190.6M927.0 1190.6L927.8 1201.2L929.0 1226.0L930.0 1244.0L931.2 1262.0L932.3 1280.0L934.0 1293.8M934.0 1293.8L934.5 1297.9L939.0 1310.2L941.0 1311.5M941.0 1311.5L945.8 1314.7L948.0 1314.0M948.0 1314.0L952.5 1312.5L955.0 1309.2M955.0 1309.2L959.3 1303.5L962.0 1299.4M962.0 1299.4L966.0 1293.4L969.0 1292.4M969.0 1292.4L972.8 1291.1L976.0 1294.3M976.0 1294.3L979.5 1297.9L983.0 1301.9M983.0 1301.9L986.3 1305.7L990.0 1312.4M990.0 1312.4L991.9 1315.9L997.0 1326.1M997.0 1326.1L997.5 1327.1L1004.0 1331.7M1004.0 1331.7L1005.4 1332.7L1011.0 1328.0M1011.0 1328.0L1012.1 1327.1L1018.0 1323.2M1018.0 1323.2L1018.9 1322.6L1024.5 1317.0L1025.0 1317.0M1025.0 1317.0L1031.2 1317.0L1032.0 1317.9M1032.0 1317.9L1038.0 1324.8L1039.0 1326.1M1039.0 1326.1L1044.7 1333.8L1046.0 1334.4M1046.0 1334.4L1053.0 1337.9M1053.0 1337.9L1053.7 1338.3L1060.0 1339.1M1060.0 1339.1L1062.7 1339.5L1067.0 1331.6M1067.0 1331.6L1069.5 1327.0L1074.0 1324.0M1074.0 1324.0L1076.2 1322.6L1080.7 1331.6L1081.0 1332.5M1081.0 1332.5L1085.2 1345.0L1088.0 1348.7M1088.0 1348.7L1092.0 1354.0L1095.0 1354.4M1095.0 1354.4L1101.0 1355.2L1102.0 1355.8M1102.0 1355.8L1109.0 1360.2M1109.0 1360.2L1110.0 1360.8L1116.0 1364.8M1116.0 1364.8L1116.7 1365.3L1123.0 1366.9M1123.0 1366.9L1125.7 1367.6L1130.0 1367.6M1130.0 1367.6L1134.7 1367.6L1137.0 1364.5M1137.0 1364.5L1141.4 1358.6L1144.0 1343.1M1144.0 1343.1L1144.8 1338.3L1148.2 1320.3L1150.4 1302.4L1151.0 1296.5M1151.0 1296.5L1152.7 1279.9L1155.0 1257.4L1157.2 1235.0L1158.0 1225.2M1158.0 1225.2L1159.4 1208.0L1165.0 1196.6M1165.0 1196.6L1166.1 1194.4L1169.5 1208.0L1171.8 1230.4L1172.0 1232.0M1172.0 1232.0L1175.1 1257.4L1177.4 1279.9L1179.0 1296.3M1179.0 1296.3L1179.6 1302.4L1181.9 1324.8L1184.1 1342.8L1186.0 1355.9M1186.0 1355.9L1186.4 1358.6L1192.0 1369.8L1193.0 1370.5M1193.0 1370.5L1199.9 1375.4L1200.0 1375.4M1200.0 1375.4L1207.0 1375.4M1207.0 1375.4L1211.1 1375.4L1214.0 1376.3M1214.0 1376.3L1221.0 1378.4M1221.0 1378.4L1222.4 1378.8L1228.0 1381.0M1228.0 1381.0L1233.6 1383.3L1235.0 1384.0M1235.0 1384.0L1242.0 1387.5M1242.0 1387.5L1242.6 1387.8L1249.0 1383.5M1249.0 1383.5L1249.3 1383.3L1256.0 1379.5M1256.0 1379.5L1257.2 1378.8L1263.0 1384.6M1263.0 1384.6L1264.0 1385.6L1270.0 1389.9M1270.0 1389.9L1271.8 1391.2L1277.0 1390.3M1277.0 1390.3L1278.6 1390.0L1284.0 1384.6M1284.0 1384.6L1285.3 1383.3L1291.0 1377.7M1291.0 1377.7L1292.1 1376.6L1298.0 1374.6M1298.0 1374.6L1298.8 1374.3L1305.0 1375.9M1305.0 1375.9L1307.8 1376.6L1312.0 1377.1M1312.0 1377.1L1316.8 1377.7L1319.0 1377.5M1319.0 1377.5L1326.0 1376.8M1326.0 1376.8L1328.0 1376.6L1333.0 1375.9M1333.0 1375.9L1337.0 1375.4L1340.0 1373.9M1340.0 1373.9L1343.8 1372.0L1347.0 1368.8M1347.0 1368.8L1350.5 1365.3L1354.0 1363.5M1354.0 1363.5L1359.5 1360.8L1361.0 1360.6M1361.0 1360.6L1366.7 1359.7L1368.0 1358.6M1368.0 1358.6L1373.5 1354.0L1375.0 1334.1M1375.0 1334.1L1375.7 1324.8L1378.0 1302.4L1380.2 1268.6L1381.4 1235.0L1382.0 1210.5M1382.0 1210.5L1382.5 1190.0L1383.6 1145.0L1384.7 1106.7L1386.5 1030.0L1388.5 950.0L1389.0 934.0M1389.0 934.0L1391.0 870.0L1393.0 836.0L1396.0 900.0M1396.0 900.0L1396.0 900.0L1399.0 980.0L1402.0 1050.0L1403.0 1077.8M1403.0 1077.8L1403.8 1100.0L1406.1 1167.5L1408.3 1223.7L1410.0 1256.9M1410.0 1256.9L1410.6 1268.6L1412.8 1279.9L1417.0 1286.8M1417.0 1286.8L1419.6 1291.1L1424.0 1296.4M1424.0 1296.4L1425.2 1297.9L1429.7 1309.1L1431.0 1313.0M1431.0 1313.0L1433.1 1319.2L1436.4 1329.3L1438.0 1330.9M1438.0 1330.9L1442.1 1335.0L1445.0 1334.6M1445.0 1334.6L1449.9 1333.8L1452.0 1333.8M1452.0 1333.8L1458.9 1333.8L1459.0 1333.8M1459.0 1333.8L1465.7 1331.6L1466.0 1331.3M1466.0 1331.3L1472.4 1324.8L1473.0 1324.0M1473.0 1324.0L1479.2 1315.9L1480.0 1315.3M1480.0 1315.3L1484.8 1311.4L1487.0 1313.2M1487.0 1313.2L1490.4 1315.9L1494.0 1320.6M1494.0 1320.6L1497.2 1324.8L1501.0 1326.7M1501.0 1326.7L1503.9 1328.2L1508.0 1325.4M1508.0 1325.4L1510.6 1323.7L1515.0 1321.5M1515.0 1321.5L1517.4 1320.3L1522.0 1317.3M1522.0 1317.3L1524.1 1315.9L1529.0 1312.7M1529.0 1312.7L1530.9 1311.4L1536.0 1309.5M1536.0 1309.5L1539.9 1308.0L1543.0 1307.2M1543.0 1307.2L1548.9 1305.7L1550.0 1305.2M1550.0 1305.2L1555.6 1302.4L1557.0 1299.6M1557.0 1299.6L1560.1 1293.4L1564.0 1285.6M1564.0 1285.6L1564.6 1284.4L1570.2 1281.0L1571.0 1281.1M1571.0 1281.1L1578.0 1282.1M1578.0 1282.1L1578.1 1282.1L1584.8 1279.9L1585.0 1279.7M1585.0 1279.7L1589.3 1275.4L1592.0 1268.3M1592.0 1268.3L1592.7 1266.4L1596.1 1257.4L1599.0 1253.8M1599.0 1253.8L1600.6 1251.8L1606.0 1249.9M1606.0 1249.9L1607.3 1249.5L1613.0 1251.4M1613.0 1251.4L1614.1 1251.8L1620.0 1254.7M1620.0 1254.7L1620.8 1255.1L1627.0 1257.2M1627.0 1257.2L1627.6 1257.4L1633.2 1258.5L1634.0 1257.9M1634.0 1257.9L1638.8 1254.0L1641.0 1251.8M1641.0 1251.8L1644.4 1248.4L1648.0 1245.5M1648.0 1245.5L1650.0 1243.9L1654.6 1237.2L1655.0 1236.9M1655.0 1236.9L1660.2 1232.7L1662.0 1231.3M1662.0 1231.3L1665.8 1228.2L1669.0 1223.1M1669.0 1223.1L1671.4 1219.2L1676.0 1213.6M1676.0 1213.6L1677.0 1212.4L1681.5 1203.4L1683.0 1197.5M1683.0 1197.5L1683.8 1194.4L1686.0 1185.4L1690.0 1155.4M1690.0 1155.4L1690.5 1151.7" stroke="#B93726" stroke-dasharray="6 6"/>
<path d="M1724.3 1179.0L1731.3 1170.4M1731.3 1170.4L1734.6 1166.3L1738.3 1164.1M1738.3 1164.1L1742.5 1161.6L1745.3 1159.2M1745.3 1159.2L1752.3 1153.0M1752.3 1153.0L1755.2 1150.5L1759.3 1140.3M1759.3 1140.3L1761.6 1134.6L1766.3 1123.9M1766.3 1123.9L1767.9 1120.3L1773.3 1117.2M1773.3 1117.2L1777.5 1114.8L1780.3 1111.7M1780.3 1111.7L1787.0 1104.4L1787.3 1104.1M1787.3 1104.1L1794.3 1096.2M1794.3 1096.2L1799.7 1090.2L1801.3 1090.0M1801.3 1090.0L1808.3 1089.0M1808.3 1089.0L1810.8 1088.6L1815.3 1087.1M1815.3 1087.1L1820.3 1085.4L1822.3 1085.2M1822.3 1085.2L1828.3 1084.6L1829.3 1084.2M1829.3 1084.2L1834.6 1082.2L1836.3 1081.2M1836.3 1081.2L1841.0 1078.3L1843.3 1076.0M1843.3 1076.0L1846.5 1072.7L1850.3 1067.3M1850.3 1067.3L1852.1 1064.8L1857.3 1055.7M1857.3 1055.7L1857.6 1055.2L1861.0 1047.1L1864.3 1038.1M1864.3 1038.1L1864.5 1037.6" stroke="#B93726" stroke-dasharray="6 6"/>
<path d="M1876.8 764.3L1876.4 769.3M1873.2 790.2L1872.8 795.2M1888.7 887.8L1889.5 892.8M1889.8 900.5L1890.6 905.5M1890.5 909.8L1893.0 914.2M1902.0 925.6L1904.8 921.6M1907.8 912.9L1910.6 908.9M1914.3 901.1L1917.9 897.5M1933.0 875.1L1937.6 876.9M1941.6 883.6L1944.8 887.4M1959.2 884.8L1962.8 881.2M1967.2 875.8L1970.8 872.2M1977.1 865.7L1980.3 861.9M1982.8 857.0L1985.2 852.6M1986.8 845.5L1988.6 840.9M1988.7 831.8L1989.5 826.8M1991.4 806.8L1992.2 801.8M1994.1 783.5L1994.9 778.5M1705.7 990.6L1706.5 995.6" stroke="#E3B656"/>
<path d="M1871.8 979.0L1872.6 974.0M1876.0 942.0L1876.8 937.0M1877.8 926.9L1880.2 922.5M1890.1 969.3L1891.3 974.1M1929.0 990.8L1934.0 990.8M1941.6 974.1L1942.8 969.3M1943.7 963.0L1944.9 958.2M1950.3 925.9L1952.1 921.3M1952.9 912.4L1957.9 911.6M1960.3 912.6L1965.3 913.4M1967.3 917.8L1971.1 921.0M1973.9 927.0L1977.1 930.8M1988.7 926.0L1989.9 921.2M1991.0 913.4L1991.8 908.4M1996.3 880.6L1997.1 875.6M1999.1 855.2L1999.5 850.2M1704.8 950.8L1705.6 955.8M1694.6 1066.9L1695.4 1061.9" stroke="#B93726"/>
</g>
<g opacity="0.999">
<text transform="translate(903.1 72.8) scale(1 1.06)" font-size="72.9" fill="#EFE4C8">Amplitude variance</text>
<text transform="translate(107 600.2) rotate(-90) scale(1 1.064)" font-size="52" fill="#EFE4C8">Amplitude variance</text>
<text transform="translate(1694.2 1543) scale(1 1.053)" font-size="52.1" fill="#EFE4C8">Frequency [Hz]</text>
<text transform="translate(614.9 1512.6) scale(1 1.064)" font-size="51" fill="#EFE4C8">10</text>
<text transform="translate(670 1488.8) scale(1 1.02)" font-size="34.6" fill="#EFE4C8">2</text>
<text transform="translate(1661.7 1512.4) scale(1 1.064)" font-size="51" fill="#EFE4C8">10</text>
<text transform="translate(1718 1488.6) scale(1 1.02)" font-size="34.6" fill="#EFE4C8">3</text>
<text transform="translate(159.9 550.2) scale(1 1.064)" font-size="51" fill="#EFE4C8">10</text>
<text transform="translate(214 527.8) scale(1 1.02)" font-size="34.6" fill="#EFE4C8">−46</text>
<text transform="translate(159.9 1143.2) scale(1 1.064)" font-size="51" fill="#EFE4C8">10</text>
<text transform="translate(214 1120.8) scale(1 1.02)" font-size="34.6" fill="#EFE4C8">−47</text>
<path d="M2087 320H2170" stroke="#E3B656" stroke-width="4"/>
<text transform="translate(2185.8 338.3) scale(1 1.062)" font-size="65" fill="#EFE4C8">Data (H1)</text>
<path d="M2087 640H2170" stroke="#E3B656" stroke-width="4" stroke-dasharray="5 5"/>
<text transform="translate(2185.8 657.8) scale(1 1.062)" font-size="65" fill="#EFE4C8">Noise (H1)</text>
<path d="M2087 960H2170" stroke="#B93726" stroke-width="4"/>
<text transform="translate(2185.8 978.3) scale(1 1.062)" font-size="65" fill="#EFE4C8">Data (L1)</text>
<path d="M2087 1280H2170" stroke="#B93726" stroke-width="4" stroke-dasharray="5 5"/>
<text transform="translate(2185.8 1297.8) scale(1 1.062)" font-size="65" fill="#EFE4C8">Noise (L1)</text>
</g>
</svg>
</body></html>
